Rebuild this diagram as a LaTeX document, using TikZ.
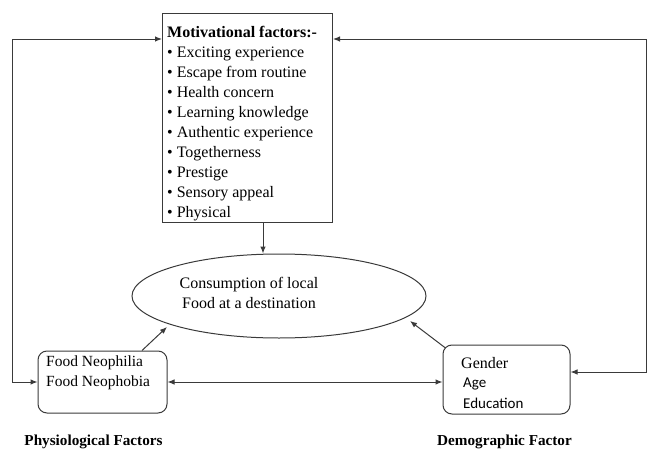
\documentclass[tikz,border=0pt]{standalone}
\usepackage{fontspec}
\setmainfont{Liberation Serif}
\newfontfamily\calib{Carlito}
\usetikzlibrary{shapes.geometric,arrows.meta}
\definecolor{linec}{HTML}{3A3A3A}
\tikzset{
  conn/.style={draw=linec, line width=1pt, -{Latex[length=7pt,width=5.5pt]}},
  dconn/.style={draw=linec, line width=1pt, {Latex[length=7pt,width=5.5pt]}-{Latex[length=7pt,width=5.5pt]}},
  boxshape/.style={draw=linec, line width=1pt},
  rbox/.style={draw=linec, line width=1pt, rounded corners=9pt},
  txt/.style={inner sep=0pt, font=\fontsize{16}{20}\selectfont},
  btxt/.style={inner sep=0pt, font=\fontsize{15.2}{18}\selectfont\bfseries},
}
\begin{document}
\begin{tikzpicture}[x=1pt,y=-1pt]
\useasboundingbox (0,0) rectangle (649,450);
% motivational box
\node[boxshape, minimum width=170pt, minimum height=209pt, anchor=north west, inner sep=0pt] (mot) at (162,13) {};
\node[txt, anchor=north west, align=left] (motlist) at (167,26) {\textbf{Motivational factors:-}\\
• Exciting experience\\
• Escape from routine\\
• Health concern\\
• Learning knowledge\\
• Authentic experience\\
• Togetherness\\
• Prestige\\
• Sensory appeal\\
• Physical};
% ellipse
\node[ellipse, draw=linec, line width=1pt, minimum width=294pt, minimum height=84pt, inner sep=0pt] (cons) at (279,296) {};
\node[txt, align=center] (conslbl) at (249,293) {Consumption of local\\ Food at a destination};
% physiological box
\node[rbox, minimum width=129pt, minimum height=62pt, inner sep=0pt] (phys) at (102.5,382) {};
\node[inner sep=0pt, font=\fontsize{15.5}{20}\selectfont, anchor=west, align=left] (physlist) at (46,373) {Food Neophilia\\Food Neophobia};
% demographic box
\node[rbox, minimum width=127pt, minimum height=69pt, inner sep=0pt] (demo) at (506.5,379.5) {};
\node[txt, anchor=west] (gender) at (461,363) {Gender};
\node[inner sep=0pt, font=\fontsize{15}{18}\selectfont\calib, anchor=west] (age) at (463,384) {Age};
\node[inner sep=0pt, font=\fontsize{15}{18}\selectfont\calib, anchor=west] (edu) at (463,403) {Education};
% labels
\node[btxt] (physlbl) at (93.5,442) {Physiological Factors};
\node[btxt] (demolbl) at (504.5,442) {Demographic Factor};
% helper coordinates
\coordinate (tl) at (12.5,39);
\coordinate (tr) at (646.5,39);
\coordinate (dx) at (263,0);
\coordinate (lx) at (142,0);
\coordinate (tipL) at (167,327);
\coordinate (tipR) at (410,321);
% connectors
\draw[dconn] (mot.west |- tl) -- (tl) |- (phys.west);
\draw[dconn] (mot.east |- tr) -- (tr) |- ([yshift=7.5pt]demo.east);
\draw[dconn] (phys.east) -- (phys.east -| demo.west);
\draw[conn] (mot.south -| dx) -- (cons.north -| dx);
\draw[conn] (phys.north -| lx) -- (tipL);
\draw[conn] ([xshift=3pt,yshift=-3.5pt]demo.north west) -- (tipR);
\end{tikzpicture}
\end{document}
